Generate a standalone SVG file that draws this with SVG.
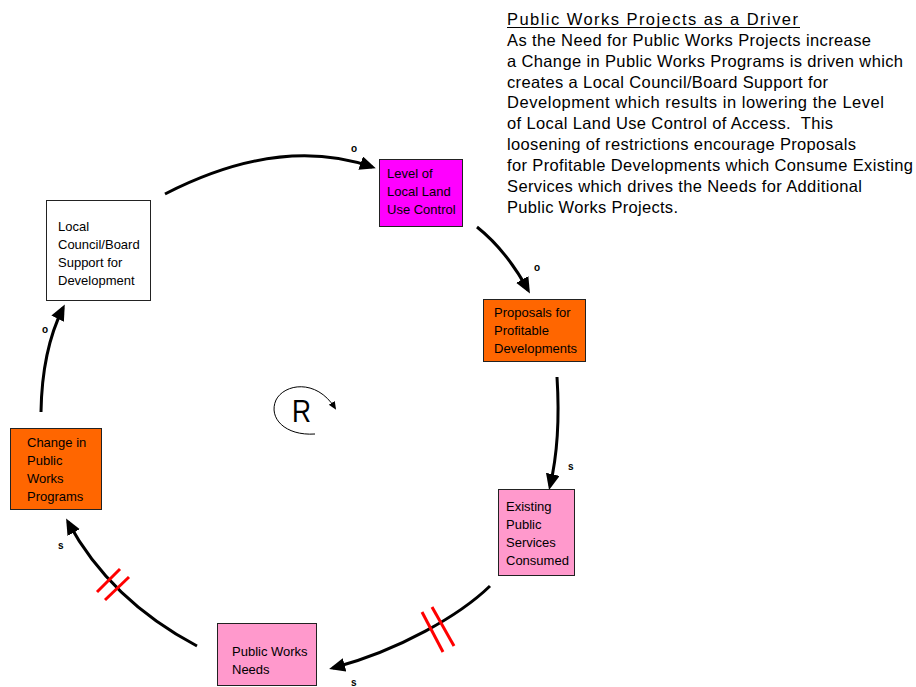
<svg xmlns="http://www.w3.org/2000/svg" width="916" height="687" viewBox="0 0 916 687">
  <style>
    .box { stroke: #222; stroke-width: 1; }
    .lbl { font-family: "Liberation Sans", Arial, sans-serif; font-size: 13px; fill: #000; }
    .link { fill: none; stroke: #000; stroke-width: 3; }
    .delay { stroke: #ff0000; stroke-width: 3; }
    .pol { font-family: "Liberation Sans", Arial, sans-serif; font-size: 10px; font-weight: bold; fill: #000; }
    .body { font-family: "Liberation Sans", Arial, sans-serif; font-size: 16.5px; fill: #000; }
  </style>
  <defs>
    <marker id="head" markerUnits="userSpaceOnUse" markerWidth="18" markerHeight="16" refX="12" refY="7" orient="auto">
      <path d="M0,0 L16,7 L0,14 z" fill="#000"/>
    </marker>
    <marker id="head-small" markerUnits="userSpaceOnUse" markerWidth="10" markerHeight="8" refX="6" refY="3.5" orient="auto">
      <path d="M0,0 L8,3.5 L0,7 z" fill="#000"/>
    </marker>
  </defs>
  <rect width="916" height="687" fill="#fff"/>

  <!-- explanatory text -->
  <g id="description">
    <text class="body" x="507" y="25" font-size="19" textLength="291" lengthAdjust="spacing">Public Works Projects as a Driver</text>
    <line x1="507" y1="27.5" x2="800" y2="27.5" stroke="#000" stroke-width="1.2"/>
    <text class="body" x="507" y="45.7" textLength="364" lengthAdjust="spacing">As the Need for Public Works Projects increase</text>
    <text class="body" x="507" y="66.6" textLength="396" lengthAdjust="spacing">a Change in Public Works Programs is driven which</text>
    <text class="body" x="507" y="87.5" textLength="321" lengthAdjust="spacing">creates a Local Council/Board Support for</text>
    <text class="body" x="507" y="108.3" textLength="377" lengthAdjust="spacing">Development which results in lowering the Level</text>
    <text class="body" x="507" y="129.2" textLength="326" lengthAdjust="spacing" xml:space="preserve">of Local Land Use Control of Access.  This</text>
    <text class="body" x="507" y="150.1" textLength="349" lengthAdjust="spacing">loosening of restrictions encourage Proposals</text>
    <text class="body" x="507" y="171" textLength="406" lengthAdjust="spacing">for Profitable Developments which Consume Existing</text>
    <text class="body" x="507" y="191.8" textLength="355" lengthAdjust="spacing">Services which drives the Needs for Additional</text>
    <text class="body" x="507" y="212.7" textLength="171" lengthAdjust="spacing">Public Works Projects.</text>
  </g>

  <!-- connectors -->
  <g id="connectors">
    <path class="link" d="M165,194 Q280,135 372,167" marker-end="url(#head)"/>
    <path class="link" d="M477,227 Q506,250 528,290" marker-end="url(#head)"/>
    <path class="link" d="M557,377 Q561,440 550,486" marker-end="url(#head)"/>
    <path class="link" d="M490,586 C460,615 400,650 333,668" marker-end="url(#head)"/>
    <path class="link" d="M197,646 Q110,600 68,522" marker-end="url(#head)"/>
    <path class="link" d="M41,412 Q42,350 63,308" marker-end="url(#head)"/>

    <!-- delay marks -->
    <line class="delay" x1="422" y1="612" x2="443" y2="652"/>
    <line class="delay" x1="432" y1="607" x2="454" y2="646"/>
    <line class="delay" x1="97" y1="592" x2="120" y2="569"/>
    <line class="delay" x1="105" y1="600" x2="129" y2="577"/>

    <!-- polarity labels -->
    <text class="pol" x="351" y="152">o</text>
    <text class="pol" x="534" y="271">o</text>
    <text class="pol" x="568" y="470">s</text>
    <text class="pol" x="351" y="685.5">s</text>
    <text class="pol" x="58" y="549">s</text>
    <text class="pol" x="42" y="333">o</text>
  </g>

  <!-- loop type -->
  <g id="loop">
    <path d="M315,434 C285,436 268,418 276,400 C284,384 316,378 335,408" fill="none" stroke="#000" stroke-width="1" marker-end="url(#head-small)"/>
    <text x="292" y="422" font-family="Liberation Sans, Arial, sans-serif" font-size="32" textLength="19" lengthAdjust="spacingAndGlyphs" fill="#000">R</text>
  </g>

  <!-- nodes -->
  <g id="local-council">
    <rect class="box" x="46.5" y="200.5" width="104" height="100" fill="#fff"/>
    <text class="lbl" x="58" y="231">Local</text>
    <text class="lbl" x="58" y="249">Council/Board</text>
    <text class="lbl" x="58" y="267">Support for</text>
    <text class="lbl" x="58" y="285">Development</text>
  </g>
  <g id="land-use-control">
    <rect class="box" x="379.5" y="159.5" width="83" height="67" fill="#ff00ff"/>
    <text class="lbl" x="387" y="178">Level of</text>
    <text class="lbl" x="387" y="196">Local Land</text>
    <text class="lbl" x="387" y="214">Use Control</text>
  </g>
  <g id="proposals">
    <rect class="box" x="483.5" y="299.5" width="102" height="62" fill="#ff6600"/>
    <text class="lbl" x="494" y="317">Proposals for</text>
    <text class="lbl" x="494" y="335">Profitable</text>
    <text class="lbl" x="494" y="353">Developments</text>
  </g>
  <g id="services-consumed">
    <rect class="box" x="498.5" y="489.5" width="76" height="86" fill="#ff99cc"/>
    <text class="lbl" x="506" y="511">Existing</text>
    <text class="lbl" x="506" y="529">Public</text>
    <text class="lbl" x="506" y="547">Services</text>
    <text class="lbl" x="506" y="565">Consumed</text>
  </g>
  <g id="public-works-needs">
    <rect class="box" x="217.5" y="623.5" width="99" height="62" fill="#ff99cc"/>
    <text class="lbl" x="232" y="656">Public Works</text>
    <text class="lbl" x="232" y="674">Needs</text>
  </g>
  <g id="public-works-programs">
    <rect class="box" x="10.5" y="428.5" width="91" height="81" fill="#ff6600"/>
    <text class="lbl" x="27" y="447">Change in</text>
    <text class="lbl" x="27" y="465">Public</text>
    <text class="lbl" x="27" y="483">Works</text>
    <text class="lbl" x="27" y="501">Programs</text>
  </g>
</svg>
